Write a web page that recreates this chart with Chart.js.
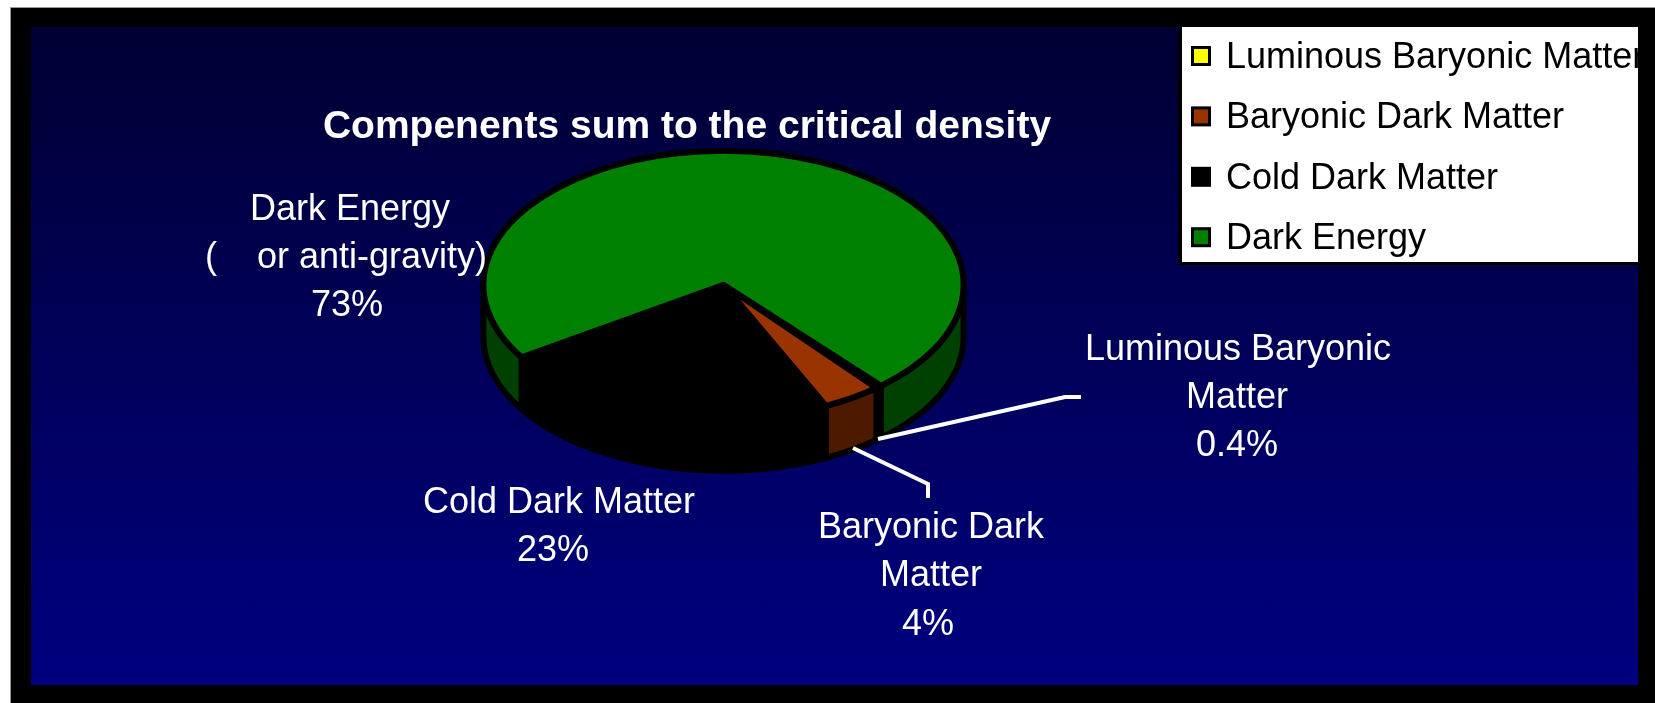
<!DOCTYPE html>
<html>
<head>
<meta charset="utf-8">
<title>Compenents sum to the critical density</title>
<script src="https://cdn.jsdelivr.net/npm/chart.js@4/dist/chart.umd.min.js"></script>
<style>
  html, body { margin: 0; padding: 0; background: #fff; overflow: hidden; }
  #frame { position: absolute; left: 10px; top: 7px; width: 1645px; height: 696px; box-sizing: border-box;
           background: #000; border-left: 1px solid #999; border-top: 1px solid #999; }
  #panel { position: absolute; left: 31px; top: 27px; width: 1607px; height: 658px;
           background: linear-gradient(#000033, #000080); }
  #myChart { position: absolute; left: 0; top: 0; }
</style>
</head>
<body>
<div id="frame"></div>
<div id="panel"></div>
<canvas id="myChart" width="1655" height="703"></canvas>
<script>
var titulo = 'Compenents sum to the critical density';
var categories = ['Luminous Baryonic Matter', 'Baryonic Dark Matter', 'Cold Dark Matter', 'Dark Energy'];
var values = [0.4, 4, 23, 73];
var topColors = ['#ffff00', '#993300', '#000000', '#008000'];
var wallColors = ['#808000', '#4d1a00', '#000000', '#004000'];

// text lines of each slice label, the percent line is added from values
var sliceLines = [
  ['Luminous Baryonic', 'Matter'],
  ['Baryonic Dark', 'Matter'],
  ['Cold Dark Matter'],
  ['Dark Energy', '(    or anti-gravity)']
];

var FONT = '"Liberation Sans", Arial, sans-serif';
var TILT = 0.558;   // vertical squash of the disc
var DEPTH = 52;     // height of the side wall
var labelPos = [
  { xs: [1238, 1237, 1237], y: 350, step: 48 },
  { xs: [931, 931, 928], y: 528, step: 48.5 },
  { xs: [559, 553], y: 503, step: 48.5 },
  { xs: [350, 346, 347], y: 210, step: 48 }
];
var leaders = [
  [[878, 439], [1065, 397], [1081, 397]],
  [[853, 448], [928, 484], [928, 498]]
];

function drawDisc(chart) {
  var ctx = chart.ctx;
  var arcs = chart.getDatasetMeta(0).data;
  var cx = arcs[0].x;
  var rx = arcs[0].outerRadius;
  var ry = rx * TILT;
  var cy = chart.chartArea.top + ry;

  ctx.save();
  ctx.lineJoin = 'round';
  ctx.strokeStyle = arcs[0].options.borderColor;
  ctx.lineWidth = arcs[0].options.borderWidth;

  // side walls, only the part of each slice facing front
  arcs.forEach(function (arc, i) {
    for (var k = -1; k <= 1; k++) {
      var a = Math.max(arc.startAngle + k * 2 * Math.PI, 0);
      var b = Math.min(arc.endAngle + k * 2 * Math.PI, Math.PI);
      if (b <= a) continue;
      ctx.beginPath();
      ctx.ellipse(cx, cy, rx, ry, 0, a, b);
      ctx.ellipse(cx, cy + DEPTH, rx, ry, 0, b, a, true);
      ctx.closePath();
      ctx.fillStyle = wallColors[i];
      ctx.fill();
      ctx.stroke();
    }
  });

  // top face
  arcs.forEach(function (arc) {
    ctx.beginPath();
    ctx.moveTo(cx, cy);
    ctx.ellipse(cx, cy, rx, ry, 0, arc.startAngle, arc.endAngle);
    ctx.closePath();
    ctx.fillStyle = arc.options.backgroundColor;
    ctx.fill();
    ctx.stroke();
  });
  ctx.restore();
}

function drawLabels(chart) {
  var ctx = chart.ctx;
  ctx.save();
  ctx.strokeStyle = '#fff';
  ctx.lineWidth = 4;
  leaders.forEach(function (pts) {
    ctx.beginPath();
    pts.forEach(function (p, j) { j ? ctx.lineTo(p[0], p[1]) : ctx.moveTo(p[0], p[1]); });
    ctx.stroke();
  });
  ctx.fillStyle = '#fff';
  ctx.font = '36px ' + FONT;
  ctx.textAlign = 'center';
  ctx.textBaseline = 'middle';
  sliceLines.forEach(function (lines, i) {
    var pos = labelPos[i];
    lines.concat(values[i] + '%').forEach(function (txt, j) {
      ctx.fillText(txt, pos.xs[j], pos.y + j * pos.step);
    });
  });
  ctx.restore();
}

function drawLegend(chart) {
  var ctx = chart.ctx;
  ctx.save();
  ctx.fillStyle = '#000';
  ctx.fillRect(1178, 27, 460, 238);
  ctx.fillStyle = '#fff';
  ctx.fillRect(1182, 27, 456, 235);
  ctx.beginPath();
  ctx.rect(1182, 27, 456, 235);
  ctx.clip();
  ctx.font = '36px ' + FONT;
  ctx.textBaseline = 'middle';
  categories.forEach(function (name, i) {
    var y = 56 + i * 60.4;
    ctx.fillStyle = '#000';
    ctx.fillRect(1191, y - 10, 20, 20);
    ctx.fillStyle = topColors[i];
    ctx.fillRect(1194, y - 7, 14, 14);
    ctx.fillStyle = '#000';
    ctx.fillText(name, 1226, y + 2);
  });
  ctx.restore();
}

var pie3d = {
  id: 'pie3d',
  afterLayout: function (chart) {
    // the heading is centred left of the disc
    chart.titleBlock.left = 0;
    chart.titleBlock.right = 1374;
  },
  beforeDatasetsDraw: function (chart) {
    drawDisc(chart);
    return false;
  },
  afterDraw: function (chart) {
    drawLabels(chart);
    drawLegend(chart);
  }
};

const ctx = document.getElementById('myChart');
const myChart = new Chart(ctx, {
  type: 'pie',
  data: {
    labels: categories,
    datasets: [{
      data: values,
      backgroundColor: topColors,
      borderColor: '#000000',
      borderWidth: 6
    }]
  },
  options: {
    responsive: false,
    animation: false,
    rotation: 139,
    layout: { padding: { left: 480, right: 688, top: 0, bottom: 66 } },
    plugins: {
      legend: { display: false },
      tooltip: { enabled: false },
      title: {
        display: true,
        text: titulo,
        color: '#ffffff',
        font: { family: FONT, size: 39, weight: 'bold', lineHeight: 1.2 },
        padding: { top: 104, bottom: 0 }
      }
    }
  },
  plugins: [pie3d]
});
</script>
</body>
</html>
